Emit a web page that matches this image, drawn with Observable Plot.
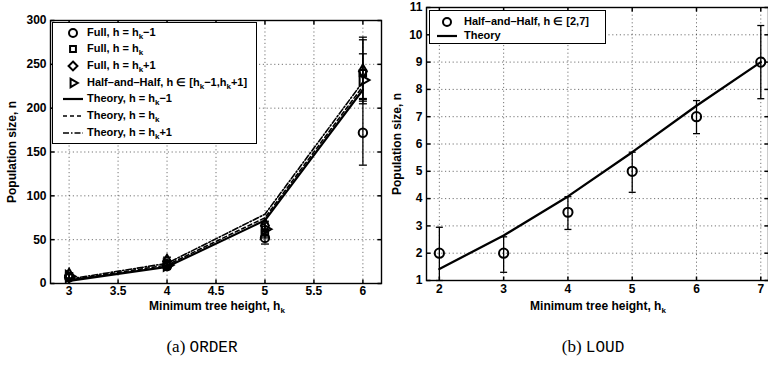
<!DOCTYPE html>
<html><head><meta charset="utf-8">
<script src="https://cdn.jsdelivr.net/npm/d3@7"></script>
<script src="https://cdn.jsdelivr.net/npm/@observablehq/plot@0.6"></script>
<style>
html,body{margin:0;padding:0;background:#fff;}
#root{position:relative;width:768px;height:388px;overflow:hidden;font-family:"Liberation Sans",Arial,sans-serif;color:#000;}
.legend{position:absolute;background:#fff;border:1.4px solid #000;box-sizing:border-box;}
.lrow{position:absolute;left:0;height:16px;font-size:11px;font-weight:bold;line-height:16px;white-space:nowrap;}
.lrow svg{position:absolute;top:0;}
.lrow span{position:absolute;top:-1px;}
sub{font-size:8px;vertical-align:-3px;line-height:0;}
.xlabel{position:absolute;font-size:12px;line-height:13px;font-weight:bold;transform:translateX(-50%);white-space:nowrap;}
.ylabel{position:absolute;font-size:12px;font-weight:bold;white-space:nowrap;transform-origin:0 0;transform:rotate(-90deg) translateX(-50%);}
.caption{position:absolute;font-size:17px;transform:translateX(-50%);white-space:nowrap;font-family:"Liberation Serif","DejaVu Serif",serif;}
.caption .tt{font-family:"Liberation Mono","DejaVu Sans Mono",monospace;font-size:16px;}
</style></head><body><div id="root"></div>
<script>
// ---------- (a) ORDER ----------
const hkA = [3, 4, 5, 6];
const xTicksA = [3, 3.5, 4, 4.5, 5, 5.5, 6];
const yTicksA = [0, 50, 100, 150, 200, 250, 300];
const theoryHm1 = [3, 19, 72, 221];
const theoryH = [4, 21, 75, 225];
const theoryHp1 = [5, 23, 79, 230];
const fullHm1 = [7, 20, 52, 172];
const fullHm1Lo = [5, 16, 45, 135];
const fullHm1Hi = [10, 25, 59, 210];
const fullH = [8, 22, 58, 240];
const fullHLo = [6, 18, 52, 211];
const fullHHi = [11, 27, 65, 278];
const fullHp1 = [9, 25, 66, 242];
const fullHp1Lo = [6, 19, 59, 208];
const fullHp1Hi = [12, 30, 71, 281];
const halfA = [8, 21, 62, 232];
const halfALo = [6, 17, 55, 205];
const halfAHi = [11, 26, 69, 262];
const legendLabelsA = ["Full, h = h_k−1", "Full, h = h_k", "Full, h = h_k+1", "Half–and–Half, h ∈ [h_k−1,h_k+1]", "Theory, h = h_k−1", "Theory, h = h_k", "Theory, h = h_k+1"];

// ---------- (b) LOUD ----------
const hkB = [2, 3, 4, 5, 6, 7];
const xTicksB = [2, 3, 4, 5, 6, 7];
const yTicksB = [1, 2, 3, 4, 5, 6, 7, 8, 9, 10, 11];
const halfB = [2, 2, 3.5, 5, 7, 9];
const halfBLo = [1, 1.3, 2.87, 4.23, 6.38, 7.66];
const halfBHi = [2.95, 2.6, 4.07, 5.7, 7.59, 10.34];
const theoryB = [1.42, 2.65, 4.08, 5.7, 7.4, 9.0];
const legendLabelsB = ["Half–and–Half, h ∈ [2,7]", "Theory"];

const captionA = ["(a) ", "ORDER"];
const captionB = ["(b) ", "LOUD"];
const xLabel = "Minimum tree height, h_k";
const yLabel = "Population size, n";

// ---------- helpers ----------
const root = document.getElementById("root");
const fmtSub = s => s.replace(/h_k/g, "h<sub>k</sub>");
const hcap = {draw(ctx, size){const r = Math.sqrt(size/Math.PI); ctx.moveTo(-r,0); ctx.lineTo(r,0);}};
const tickUp = {draw(ctx, size){const r = Math.sqrt(size/Math.PI); ctx.moveTo(0,0); ctx.lineTo(0,-r);}};
const tickDown = {draw(ctx, size){const r = Math.sqrt(size/Math.PI); ctx.moveTo(0,0); ctx.lineTo(0,r);}};
const tickRight = {draw(ctx, size){const r = Math.sqrt(size/Math.PI); ctx.moveTo(0,0); ctx.lineTo(r,0);}};
const tickLeft = {draw(ctx, size){const r = Math.sqrt(size/Math.PI); ctx.moveTo(0,0); ctx.lineTo(-r,0);}};
const gridStyle = {stroke: "#000", strokeOpacity: 0.55, strokeWidth: 1, strokeDasharray: "1.2,2.6"};
const frameTicks = (xt, yt) => [
  Plot.dot(xt, {x: d => d, frameAnchor: "bottom", symbol: tickUp, r: 4, stroke: "#000", fill: "none"}),
  Plot.dot(xt, {x: d => d, frameAnchor: "top", symbol: tickDown, r: 4, stroke: "#000", fill: "none"}),
  Plot.dot(yt, {y: d => d, frameAnchor: "left", symbol: tickRight, r: 4, stroke: "#000", fill: "none"}),
  Plot.dot(yt, {y: d => d, frameAnchor: "right", symbol: tickLeft, r: 4, stroke: "#000", fill: "none"})
];
const series = (xs, y, lo, hi) => xs.map((x, i) => ({x, y: y[i], lo: lo ? lo[i] : null, hi: hi ? hi[i] : null}));
const pointMarks = (data, symbol, r, rotate, capR) => [
  Plot.ruleX(data, {x: "x", y1: "lo", y2: "hi", stroke: "#000", strokeWidth: 1.3}),
  Plot.dot(data, {x: "x", y: "lo", symbol: hcap, r: capR, stroke: "#000", strokeWidth: 1.3, fill: "none"}),
  Plot.dot(data, {x: "x", y: "hi", symbol: hcap, r: capR, stroke: "#000", strokeWidth: 1.3, fill: "none"}),
  Plot.dot(data, {x: "x", y: "y", symbol, r, rotate, stroke: "#000", strokeWidth: 2, fill: "none"})
];
const baseStyle = {fontSize: "12px", fontWeight: "bold", fontFamily: "'Liberation Sans', Arial, sans-serif", color: "#000", background: "transparent", overflow: "visible"};

// ---------- chart A ----------
const thA = [
  {d: series(hkA, theoryHm1), dash: null, w: 2.2},
  {d: series(hkA, theoryH), dash: "4,3", w: 1.6},
  {d: series(hkA, theoryHp1), dash: "6,2,1.5,2", w: 1.6}
];
const plotA = Plot.plot({
  width: 384, height: 300,
  marginLeft: 50, marginRight: 3, marginTop: 20, marginBottom: 17,
  style: baseStyle,
  x: {domain: [2.81, 6.19], ticks: xTicksA, tickFormat: d => String(d), tickSize: 0, tickPadding: 3, label: null},
  y: {domain: [0, 300], ticks: yTicksA, tickFormat: d => String(d), tickSize: 0, tickPadding: 4, label: null},
  marks: [
    Plot.ruleX(xTicksA, {x: d => d, ...gridStyle}),
    Plot.ruleY(yTicksA, {y: d => d, ...gridStyle}),
    ...thA.map(t => Plot.line(t.d, {x: "x", y: "y", stroke: "#000", strokeWidth: t.w, strokeDasharray: t.dash})),
    ...pointMarks(series(hkA, fullHm1, fullHm1Lo, fullHm1Hi), "circle", 4.2, 0, 4),
    ...pointMarks(series(hkA, fullH, fullHLo, fullHHi), "square", 3.6, 0, 4),
    ...pointMarks(series(hkA, fullHp1, fullHp1Lo, fullHp1Hi), "diamond", 4.2, 0, 4),
    ...pointMarks(series(hkA, halfA, halfALo, halfAHi), "triangle", 4.2, 90, 4),
    ...frameTicks(xTicksA, yTicksA),
    Plot.frame({stroke: "#000", strokeWidth: 1.4})
  ]
});
plotA.style.position = "absolute"; plotA.style.left = "0px"; plotA.style.top = "0px";
root.appendChild(plotA);

// ---------- chart B ----------
const plotB = Plot.plot({
  width: 384, height: 300,
  marginLeft: 42, marginRight: 0, marginTop: 7, marginBottom: 20,
  style: baseStyle,
  x: {domain: [1.8, 7.12], ticks: xTicksB, tickFormat: d => String(d), tickSize: 0, tickPadding: 4, label: null},
  y: {domain: [1, 11], ticks: yTicksB, tickFormat: d => String(d), tickSize: 0, tickPadding: 4, label: null},
  marks: [
    Plot.ruleX(xTicksB, {x: d => d, ...gridStyle}),
    Plot.ruleY(yTicksB, {y: d => d, ...gridStyle}),
    Plot.line(series(hkB, theoryB), {x: "x", y: "y", stroke: "#000", strokeWidth: 2.3}),
    ...pointMarks(series(hkB, halfB, halfBLo, halfBHi), "circle", 4.6, 0, 3.5),
    ...frameTicks(xTicksB, yTicksB),
    Plot.frame({stroke: "#000", strokeWidth: 1.4})
  ]
});
plotB.style.position = "absolute"; plotB.style.left = "384px"; plotB.style.top = "0px";
root.appendChild(plotB);

// ---------- legends ----------
function symInner(kind, w) {
  const cx = w / 2, cy = 8;
  const sym = (type, size, rot) => `<path transform="translate(${cx},${cy}) rotate(${rot||0})" d="${d3.symbol(type, size)()}" fill="none" stroke="#000" stroke-width="2"/>`;
  if (kind === "circle") return sym(d3.symbolCircle, 4 * 4 * Math.PI);
  if (kind === "square") return sym(d3.symbolSquare, 3.3 * 3.3 * Math.PI);
  if (kind === "diamond") return sym(d3.symbolDiamond2, 4 * 4 * Math.PI);
  if (kind === "triangle") return sym(d3.symbolTriangle2, 4 * 4 * Math.PI, 90);
  const dash = kind === "solid" ? "" : kind === "dash" ? 'stroke-dasharray="4,3"' : 'stroke-dasharray="6,2,1.5,2"';
  return `<line x1="1" x2="${w-1}" y1="${cy}" y2="${cy}" stroke="#000" stroke-width="${kind==='solid'?2.2:1.6}" ${dash}/>`;
}
function legend(box, labels, kinds, rowY0, rowStep, symX, symW, textX) {
  const div = document.createElement("div");
  div.className = "legend";
  Object.assign(div.style, {left: box[0] + "px", top: box[1] + "px", width: box[2] + "px", height: box[3] + "px"});
  labels.forEach((lab, i) => {
    const row = document.createElement("div");
    row.className = "lrow";
    row.style.top = (rowY0 + i * rowStep - 8) + "px";
    row.style.width = box[2] + "px";
    row.innerHTML = `<svg style="left:${symX - symW/2}px" width="${symW}" height="16">${symInner(kinds[i], symW)}</svg><span style="left:${textX}px">${fmtSub(lab)}</span>`;
    div.appendChild(row);
  });
  root.appendChild(div);
}
legend([52, 22, 205, 122], legendLabelsA, ["circle", "square", "diamond", "triangle", "solid", "dash", "dashdot"], 9.5, 16.7, 20, 22, 34);
legend([429, 10, 177, 34], legendLabelsB, ["circle", "solid"], 10.5, 14.5, 17, 22, 34);

// ---------- axis labels & captions ----------
function addLabel(cls, html, x, y) {
  const d = document.createElement("div");
  d.className = cls; d.innerHTML = html;
  d.style.left = x + "px"; d.style.top = y + "px";
  root.appendChild(d);
}
addLabel("xlabel", fmtSub(xLabel), 217, 300);
addLabel("xlabel", fmtSub(xLabel), 598, 300);
addLabel("ylabel", yLabel, 5, 152);
addLabel("ylabel", yLabel, 390, 144);
addLabel("caption", `${captionA[0]}<span class="tt">${captionA[1]}</span>`, 202, 337);
addLabel("caption", `${captionB[0]}<span class="tt">${captionB[1]}</span>`, 593, 337);
</script></body></html>
